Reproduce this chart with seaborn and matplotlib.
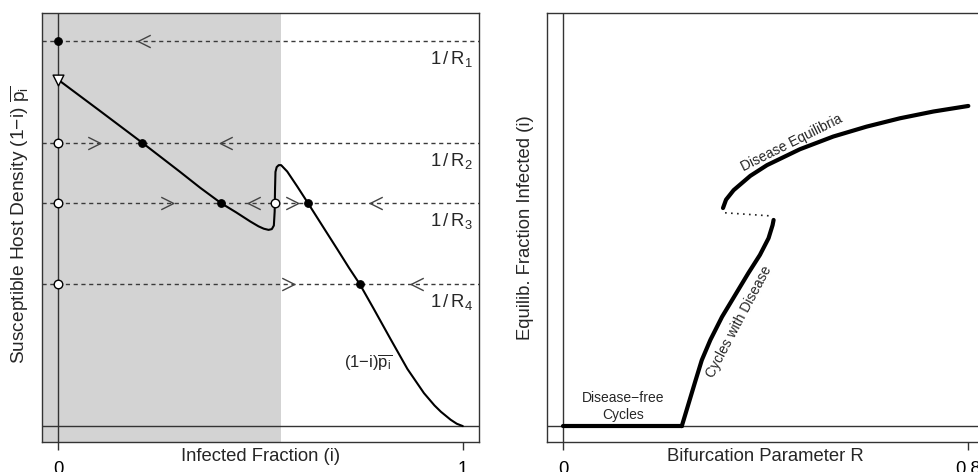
import matplotlib
matplotlib.use("Agg")
import matplotlib.pyplot as plt
from matplotlib.path import Path
import seaborn as sns

# ---------------- data (left panel) ----------------
curve_i = [0.0, 0.05, 0.10, 0.207, 0.30, 0.351, 0.403, 0.44, 0.475, 0.495, 0.508, 0.520,
           0.528, 0.533, 0.535, 0.536, 0.537, 0.540, 0.545, 0.551, 0.566, 0.591, 0.617,
           0.655, 0.690, 0.719, 0.745, 0.780, 0.822, 0.863, 0.904, 0.930, 0.946, 0.970,
           0.985, 1.0]
curve_s = [0.872, 0.834, 0.796, 0.714, 0.641, 0.600, 0.561, 0.538, 0.515, 0.503, 0.497, 0.494,
           0.496, 0.505, 0.540, 0.600, 0.640, 0.652, 0.657, 0.657, 0.641, 0.603, 0.562,
           0.501, 0.445, 0.398, 0.358, 0.295, 0.218, 0.144, 0.083, 0.052, 0.036, 0.016,
           0.006, 0.0]

inv_R = [0.970, 0.713, 0.562, 0.358]
inv_R_labels = [r'$\mathregular{1\,/\,R_1}$', r'$\mathregular{1\,/\,R_2}$',
                r'$\mathregular{1\,/\,R_3}$', r'$\mathregular{1\,/\,R_4}$']

stable_i = [0.0, 0.207, 0.403, 0.617, 0.745]
stable_s = [0.970, 0.713, 0.562, 0.562, 0.358]
unstable_i = [0.0, 0.0, 0.535, 0.0]
unstable_s = [0.713, 0.562, 0.562, 0.358]
tri_i = [0.0]
tri_s = [0.872]
right_arrow_i = [0.088, 0.269, 0.578, 0.568]
right_arrow_s = [0.713, 0.562, 0.562, 0.358]
left_arrow_i = [0.213, 0.415, 0.485, 0.786, 0.886]
left_arrow_s = [0.970, 0.713, 0.562, 0.562, 0.358]
shade_end = 0.55

# ---------------- data (right panel) ----------------
free_R = [0.0, 0.2345]
free_i = [0.0, 0.0]
cyc_R = [0.2345, 0.248, 0.261, 0.274, 0.291, 0.314, 0.340, 0.366, 0.389, 0.406, 0.414, 0.416]
cyc_i = [0.0, 0.057, 0.112, 0.166, 0.217, 0.275, 0.330, 0.385, 0.431, 0.473, 0.506, 0.519]
unst_R = [0.320, 0.412]
unst_i = [0.537, 0.529]
eq_R = [0.316, 0.322, 0.337, 0.370, 0.403, 0.468, 0.534, 0.600, 0.666, 0.732, 0.801]
eq_i = [0.549, 0.570, 0.594, 0.630, 0.657, 0.697, 0.729, 0.754, 0.775, 0.792, 0.806]

# ---------------- style ----------------
sns.set_theme(style="white")
plt.rcParams['font.family'] = ['Liberation Sans', 'DejaVu Sans']
plt.rcParams['mathtext.fontset'] = 'custom'
plt.rcParams['mathtext.rm'] = 'Liberation Sans'
plt.rcParams['mathtext.it'] = 'Liberation Sans:italic'
plt.rcParams['mathtext.sf'] = 'Liberation Sans'

FS = 13.3
dark = '#333333'

fig = plt.figure(figsize=(9.79, 4.72), dpi=100)
ax1 = fig.add_axes([42/979, 1-442/472, 437/979, 429/472])
ax2 = fig.add_axes([547/979, 1-442/472, 437/979, 429/472])

for ax in (ax1, ax2):
    for sp in ax.spines.values():
        sp.set_color(dark)
        sp.set_linewidth(1.0)
    ax.set_yticks([])
    ax.tick_params(axis='x', length=6, width=1, color=dark, pad=7.5, labelsize=FS,
                   labelcolor='black', bottom=True)
    ax.axhline(0, color=dark, lw=1.0, zorder=2)
    ax.axvline(0, color=dark, lw=1.0, zorder=2)

# ---------------- left panel ----------------
ax1.set_xlim(-0.04, 1.04)
ax1.set_ylim(-0.04, 1.04)
ax1.axvspan(-0.04, shade_end, color='#d3d3d3', lw=0, zorder=0)

for yv, lab in zip(inv_R, inv_R_labels):
    ax1.axhline(yv, color='#3a3a3a', lw=1.0, ls=(0, (3, 2.6)), zorder=1)
    ax1.text(0.972, yv - 0.045, lab, fontsize=FS, ha='center', va='center')

sns.lineplot(x=curve_i, y=curve_s, sort=False, estimator=None, color='black',
             lw=1.5, ax=ax1, zorder=3)

chev_left = Path([(0.5, 0.5), (-0.5, 0.0), (0.5, -0.5)],
                 [Path.MOVETO, Path.LINETO, Path.LINETO])
chev_right = Path([(-0.5, 0.5), (0.5, 0.0), (-0.5, -0.5)],
                  [Path.MOVETO, Path.LINETO, Path.LINETO])
ax1.plot(left_arrow_i, left_arrow_s, ls='none', marker=chev_left, ms=9,
         mfc='none', mec='#444444', mew=1.0, zorder=4)
ax1.plot(right_arrow_i, right_arrow_s, ls='none', marker=chev_right, ms=9,
         mfc='none', mec='#444444', mew=1.0, zorder=4)

sns.scatterplot(x=stable_i, y=stable_s, color='black', s=30, marker='o',
                edgecolor='black', linewidth=0.8, ax=ax1, zorder=5)
sns.scatterplot(x=unstable_i, y=unstable_s, color='white', s=38, marker='o',
                edgecolor='black', linewidth=1.0, ax=ax1, zorder=5)
sns.scatterplot(x=tri_i, y=tri_s, color='white', s=60, marker='v',
                edgecolor='black', linewidth=1.0, ax=ax1, zorder=5)

ax1.text(0.765, 0.158, '(1\u2212i)' + r'$\mathregular{\overline{p_i}}$', fontsize=12,
         ha='center', va='center')

ax1.set_xticks([0, 1])
ax1.set_xticklabels(['0', '1'])
ax1.set_xlabel('')
ax1.set_ylabel('')
ax1.text(0.5, -0.033, 'Infected Fraction (i)', fontsize=FS, ha='center', va='center',
         transform=ax1.transAxes, clip_on=False)
ax1.text(-0.050, 0.507, r'Susceptible Host Density (1$\mathregular{-}$i) $\mathregular{\overline{p_i}}$',
         fontsize=13.8, ha='center', va='center', rotation=90,
         transform=ax1.transAxes, clip_on=False)

# ---------------- right panel ----------------
ax2.set_xlim(-0.032, 0.832)
ax2.set_ylim(-0.04, 1.04)

sns.lineplot(x=free_R, y=free_i, sort=False, estimator=None, color='black',
             lw=3, ax=ax2, zorder=3, solid_capstyle='round')
sns.lineplot(x=cyc_R, y=cyc_i, sort=False, estimator=None, color='black',
             lw=3, ax=ax2, zorder=3, solid_capstyle='round')
sns.lineplot(x=eq_R, y=eq_i, sort=False, estimator=None, color='black',
             lw=3, ax=ax2, zorder=3, solid_capstyle='round')
sns.lineplot(x=unst_R, y=unst_i, sort=False, estimator=None, color='#222222',
             lw=1.2, ls=(0, (1, 2.6)), ax=ax2, zorder=3)

ax2.text(0.118, 0.0705, 'Disease\u2212free', fontsize=10, ha='center', va='center')
ax2.text(0.118, 0.028, 'Cycles', fontsize=10, ha='center', va='center')
ax2.text(0.347, 0.262, 'Cycles with Disease', fontsize=10, ha='center', va='center',
         rotation=62, rotation_mode='anchor')
ax2.text(0.452, 0.712, 'Disease Equilibria', fontsize=10, ha='center', va='center',
         rotation=26.5, rotation_mode='anchor')

ax2.set_xticks([0, 0.8])
ax2.set_xticklabels(['0', '0.8'])
ax2.set_xlabel('')
ax2.set_ylabel('')
ax2.text(0.5, -0.033, 'Bifurcation Parameter R', fontsize=FS, ha='center', va='center',
         transform=ax2.transAxes, clip_on=False)
ax2.text(-0.050, 0.5, 'Equilib. Fraction Infected (i)', fontsize=FS, ha='center',
         va='center', rotation=90, transform=ax2.transAxes, clip_on=False)

fig.savefig('out.png', dpi=100)
